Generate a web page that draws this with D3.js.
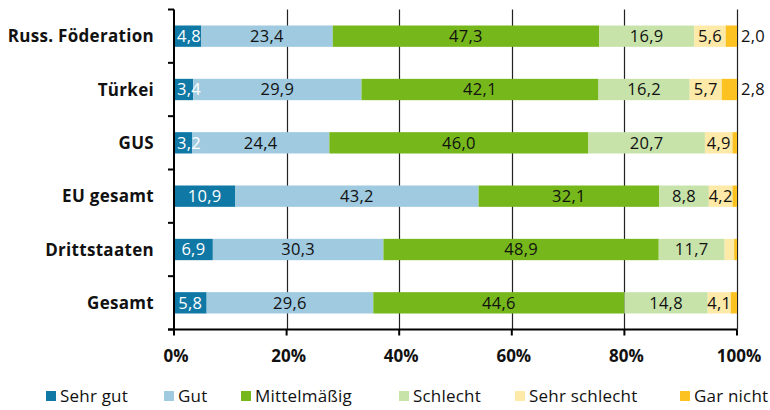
<!DOCTYPE html>
<html lang="de">
<head>
<meta charset="UTF-8">
<script src="https://d3js.org/d3.v7.min.js"></script>
<title>Bewertung</title>
<style>
  body { margin: 0; background: #fff; }
  svg text { font-family: "Open Sans", Lato, sans-serif; }
</style>
</head>
<body>
<div id="chart"></div>
<script>
// data
var categories = ["Russ. Föderation", "Türkei", "GUS", "EU gesamt", "Drittstaaten", "Gesamt"];
var seriesNames = ["Sehr gut", "Gut", "Mittelmäßig", "Schlecht", "Sehr schlecht", "Gar nicht"];
var sehrGut      = [4.8, 3.4, 3.2, 10.9, 6.9, 5.8];
var gut          = [23.4, 29.9, 24.4, 43.2, 30.3, 29.6];
var mittel       = [47.3, 42.1, 46.0, 32.1, 48.9, 44.6];
var schlecht     = [16.9, 16.2, 20.7, 8.8, 11.7, 14.8];
var sehrSchlecht = [5.6, 5.7, 4.9, 4.2, 1.7, 4.1];
var garNicht     = [2.0, 2.8, 0.8, 0.8, 0.5, 1.1];
var tickValues = [0, 20, 40, 60, 80, 100];

var colors = ["#0f78a5", "#9fcae0", "#76b71b", "#c7e3aa", "#fde9a8", "#fcc221"];

var series = [sehrGut, gut, mittel, schlecht, sehrSchlecht, garNicht];

var width = 770, height = 410;
var margin = {top: 9.5, left: 174, right: 33, bottom: 80.5};

var svg = d3.select("#chart").append("svg")
    .attr("width", width)
    .attr("height", height);

var x = d3.scaleLinear().domain([0, 100]).range([margin.left, width - margin.right]);
var y = d3.scaleBand().domain(categories)
    .range([margin.top, height - margin.bottom])
    .paddingInner(0.6).paddingOuter(0.3);

var yEdges = d3.scaleLinear().domain([0, categories.length])
    .range([margin.top, height - margin.bottom]);

// gridlines
svg.append("g")
  .selectAll("line")
  .data(tickValues.slice(1))
  .enter().append("line")
    .attr("x1", function(d) { return Math.round(x(d)) + 0.5; })
    .attr("x2", function(d) { return Math.round(x(d)) + 0.5; })
    .attr("y1", margin.top)
    .attr("y2", height - margin.bottom)
    .attr("stroke", "#222")
    .attr("stroke-width", 1.2);

// stacked rows
var rows = categories.map(function(c, i) {
  var start = 0;
  return series.map(function(s, k) {
    var seg = {cat: c, k: k, v: s[i], x0: start, x1: start + s[i]};
    start += s[i];
    return seg;
  });
});

var fmt = function(v) { return v.toFixed(1).replace(".", ","); };

var rowG = svg.append("g").selectAll("g")
  .data(rows)
  .enter().append("g");

rowG.selectAll("rect")
  .data(function(d) { return d; })
  .enter().append("rect")
    .attr("x", function(d) { return x(d.x0); })
    .attr("width", function(d) { return Math.max(0, x(Math.min(d.x1, 100)) - x(d.x0)); })
    .attr("y", function(d) { return y(d.cat); })
    .attr("height", y.bandwidth())
    .attr("fill", function(d) { return colors[d.k]; });

rowG.selectAll("text")
  .data(function(d) { return d.filter(function(s) { return s.v >= 2; }); })
  .enter().append("text")
    .attr("x", function(d) {
      if (d.k === 5) return x(100) + 4;
      var mid = (x(d.x0) + x(Math.min(d.x1, 100))) / 2;
      // keep short labels inside the chart area
      return Math.max(mid, x(0) + 15);
    })
    .attr("y", function(d) { return y(d.cat) + y.bandwidth() / 2; })
    .attr("dy", "0.36em")
    .attr("text-anchor", function(d) { return d.k === 5 ? "start" : "middle"; })
    .attr("font-size", "16.5px")
    .attr("letter-spacing", "0.3px")
    .attr("fill", function(d) { return d.k === 0 ? "#fff" : "#111"; })
    .text(function(d) { return fmt(d.v); });

// left axis
var axisG = svg.append("g").attr("stroke", "#000").attr("stroke-width", 2);
axisG.append("line")
    .attr("x1", margin.left).attr("x2", margin.left)
    .attr("y1", margin.top).attr("y2", height - margin.bottom);
axisG.selectAll(".ytick")
  .data(d3.range(categories.length + 1))
  .enter().append("line")
    .attr("x1", margin.left - 6).attr("x2", margin.left)
    .attr("y1", function(d) { return yEdges(d); })
    .attr("y2", function(d) { return yEdges(d); });

// bottom axis
axisG.append("line")
    .attr("x1", margin.left - 6).attr("x2", x(100))
    .attr("y1", height - margin.bottom).attr("y2", height - margin.bottom);
axisG.selectAll(".xtick")
  .data(tickValues)
  .enter().append("line")
    .attr("x1", function(d) { return x(d); })
    .attr("x2", function(d) { return x(d); })
    .attr("y1", height - margin.bottom)
    .attr("y2", height - margin.bottom + 6);

svg.append("g").selectAll("text")
  .data(tickValues)
  .enter().append("text")
    .attr("x", function(d) { return x(d) + 2; })
    .attr("y", 362)
    .attr("text-anchor", "middle")
    .attr("font-size", "17px")
    .attr("font-weight", "bold")
    .attr("fill", "#111")
    .text(function(d) { return d + "%"; });

// category labels
svg.append("g").selectAll("text")
  .data(categories)
  .enter().append("text")
    .attr("x", 154)
    .attr("y", function(d) { return y(d) + y.bandwidth() / 2; })
    .attr("dy", "0.36em")
    .attr("text-anchor", "end")
    .attr("font-size", "17px")
    .attr("letter-spacing", "0.3px")
    .attr("font-weight", "bold")
    .attr("fill", "#111")
    .text(function(d) { return d; });

// legend
var legendX = [46, 164, 241, 399, 515, 680];
var legend = svg.append("g").selectAll("g")
  .data(seriesNames)
  .enter().append("g")
    .attr("transform", function(d, i) { return "translate(" + legendX[i] + ",396)"; });

legend.append("rect")
    .attr("x", 0).attr("y", -5)
    .attr("width", 10).attr("height", 10)
    .attr("fill", function(d, i) { return colors[i]; });

legend.append("text")
    .attr("x", 14)
    .attr("dy", "0.36em")
    .attr("font-size", "17px")
    .attr("letter-spacing", "0.2px")
    .attr("fill", "#111")
    .text(function(d) { return d; });
</script>
</body>
</html>
